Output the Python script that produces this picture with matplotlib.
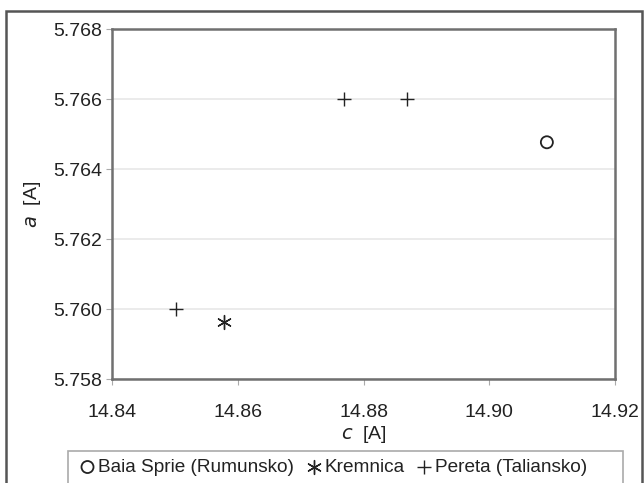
import matplotlib.pyplot as plt
from matplotlib.patches import Rectangle

plt.rcParams['font.family'] = ['Liberation Sans', 'DejaVu Sans']

# lattice parameters
baia_c = [14.9092]
baia_a = [5.76477]
kremnica_c = [14.8578]
kremnica_a = [5.75962]
pereta_c = [14.8501, 14.8769, 14.8870]
pereta_a = [5.7600, 5.7660, 5.7660]

x_ticks = [14.84, 14.86, 14.88, 14.90, 14.92]
x_labels = ['14.84', '14.86', '14.88', '14.90', '14.92']
y_ticks = [5.758, 5.760, 5.762, 5.764, 5.766, 5.768]
y_labels = ['5.758', '5.760', '5.762', '5.764', '5.766', '5.768']

fig = plt.figure(figsize=(6.44, 4.83), dpi=100)
ax = fig.add_axes([0.1744, 0.2153, 0.7801, 0.724])

ax.scatter(baia_c, baia_a, marker='o', s=75, facecolors='none',
           edgecolors='#222222', linewidths=1.3, label='Baia Sprie (Rumunsko)', zorder=3)
ax.scatter(kremnica_c, kremnica_a, marker=(6, 2, 0), s=100, color='#222222',
           linewidths=1.0, label='Kremnica', zorder=3)
ax.scatter(pereta_c, pereta_a, marker='+', s=100, color='#222222',
           linewidths=1.0, label='Pereta (Taliansko)', zorder=3)

ax.set_xlim(14.84, 14.92)
ax.set_ylim(5.758, 5.768)
ax.set_xticks(x_ticks)
ax.set_xticklabels(x_labels)
ax.set_yticks(y_ticks)
ax.set_yticklabels(y_labels)
ax.tick_params(axis='both', labelsize=14, length=4, color='#aaaaaa',
               labelcolor='#222222')
ax.tick_params(axis='x', pad=14)
ax.grid(axis='y', color='#e8e8e8', linewidth=1.2)
ax.set_axisbelow(True)
for sp in ax.spines.values():
    sp.set_color('#707070')
    sp.set_linewidth(1.8)

ax.set_xlabel(r'$\mathit{c}$  [A]', fontsize=14, labelpad=2, color='#222222')
ax.set_ylabel(r'$\mathit{a}$  [A]', fontsize=14, labelpad=7, color='#222222')

leg_top = 1 - 450.7 / 483
leg = fig.legend(loc='upper left', bbox_to_anchor=(70 / 644, leg_top),
                 ncol=3, frameon=False, fontsize=13.7,
                 handletextpad=0.05, columnspacing=0.55, borderpad=0.42,
                 handlelength=1.0, borderaxespad=0)
for t in leg.get_texts():
    t.set_color('#222222')

# legend frame, cut by the bottom edge like the reference
fig.patches.append(Rectangle((68.3 / 644, -0.05), (623 - 68.3) / 644, leg_top + 0.05,
                             transform=fig.transFigure, fill=False,
                             edgecolor='#aaaaaa', linewidth=1.2))

# outer chart border
fig.patches.append(Rectangle((6 / 644, -0.05), (642 - 6) / 644, 1.05 - 11 / 483,
                             transform=fig.transFigure, fill=False,
                             edgecolor='#555555', linewidth=1.8))

fig.savefig('out.png', dpi=100)
